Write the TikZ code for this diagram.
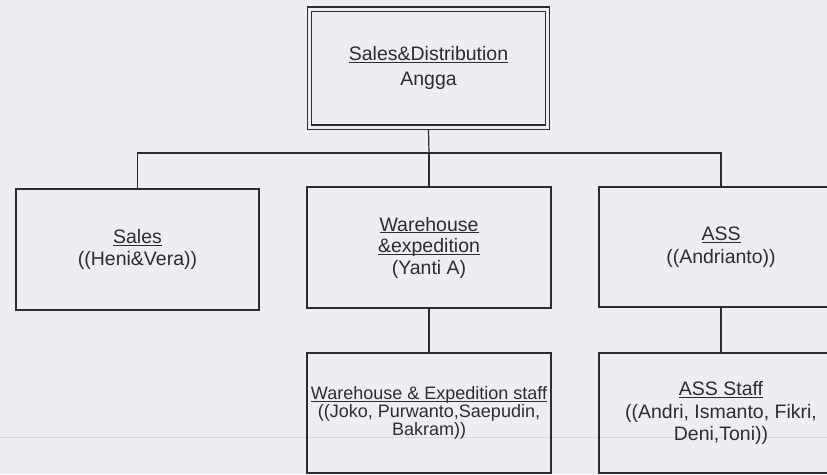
\documentclass[tikz,border=0pt]{standalone}
\definecolor{paper}{RGB}{237,237,243}
\definecolor{ink}{RGB}{44,44,50}
\definecolor{scanpink}{RGB}{236,205,232}
\usepackage{fontspec}
\setmainfont{Liberation Sans}
\usepackage{tikz}
\usetikzlibrary{positioning}
\newcommand{\ulname}[1]{\underline{\raisebox{0pt}[\height][0pt]{#1}}}
\begin{document}
\begin{tikzpicture}[x=1pt,y=-1pt,
    unitbox/.style={draw=ink,line width=1.3pt,minimum width=244pt,minimum height=121pt,
      inner sep=0pt,align=center,text=ink,font=\fontsize{19.5}{22.5}\selectfont},
    headbox/.style={unitbox,double=paper,double distance=3pt,outer sep=2.8pt,
      minimum width=238pt,minimum height=118pt,font=\fontsize{19.5}{25}\selectfont},
    link/.style={draw=ink,line width=1.2pt}]
        \useasboundingbox (0,0) rectangle (827,474);
        \clip (0,0) rectangle (827,474);
        \fill[paper] (0,0) rectangle (827,474);
        \draw[scanpink,line width=1pt] (0,437) -- (827,437);
        \node[headbox] (head) at (428.5,68) {\ulname{Sales\&Distribution}\\Angga};
        \node[unitbox,minimum width=243pt] (sales) at (137.5,249.5) {\ulname{Sales}\\((Heni\&Vera))};
        \node[unitbox,font=\fontsize{19.5}{21.5}\selectfont] (wh) at (429,247.5)
          {\ulname{Warehouse}\\\ulname{\&expedition}\\(Yanti A)};
        \node[unitbox,minimum height=120pt] (ass) at (721,247) {\ulname{ASS}\\((Andrianto))};
        \node[unitbox,minimum height=120pt,font=\fontsize{18}{18}\selectfont] (whstaff) at (429,413)
          {\ulname{Warehouse \& Expedition staff}\\((Joko, Purwanto,Saepudin,\\Bakram))};
        \node[unitbox,minimum height=120pt] (assstaff) at (721,413)
          {\ulname{ASS Staff}\\((Andri, Ismanto, Fikri,\\Deni,Toni))};
        \coordinate (bus) at (429,153);
        \draw[link] (head.south) -- (bus);
        \draw[link] (sales.north) |- (bus) -| (ass.north);
        \draw[link] (bus) -- (wh.north);
        \draw[link] (wh.south) -- (whstaff.north);
        \draw[link] (ass.south) -- (assstaff.north);
      \end{tikzpicture}
\end{document}
